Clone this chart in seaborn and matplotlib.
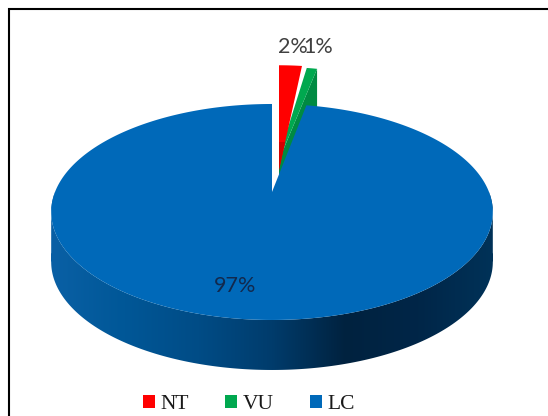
import numpy as np
import matplotlib
matplotlib.use("Agg")
import matplotlib.pyplot as plt
from matplotlib.patches import Polygon, Patch, Rectangle
from matplotlib.colors import LinearSegmentedColormap
import seaborn as sns

categories = ["NT", "VU", "LC"]
shares = [2, 1, 97]
pct_labels = ["2%", "1%", "97%"]
colors = ["#ff0000", "#00a84f", "#0069b9"]
wall_green = "#008a42"
shade_red = "#d40000"
side_stops = ["#0a60a5", "#005797", "#004c86", "#003c6c", "#00223f", "#002648", "#003258"]

sns.set_theme(style="white")
W, H = 548, 416
fig = plt.figure(figsize=(W / 100, H / 100), dpi=100, facecolor="white")

# Slice angles come from the library's pie layout; outlines are then reprojected
helper = fig.add_axes([0, 0, 0.01, 0.01])
wedges, _ = helper.pie(shares, colors=colors, startangle=90, counterclock=False, radius=1)
outlines = []
for w in wedges:
    t = np.deg2rad(np.linspace(w.theta1, w.theta2, max(8, int(abs(w.theta2 - w.theta1) * 3))))
    arc = np.column_stack([np.cos(t), np.sin(t)])
    outlines.append(np.vstack([[0, 0], arc]))
helper.remove()

ax = fig.add_axes([0, 0, 1, 1])
ax.set_xlim(0, W)
ax.set_ylim(H, 0)
ax.axis("off")

K, B, A = 0.185, 217.0, 104.3
DEPTH = 50


def project(xy, tip, vstretch=1.0, hstretch=1.0, shear=0.0):
    x, y = xy[:, 0], xy[:, 1]
    d = 1 + K * y
    v = vstretch * A * y / d
    return np.column_stack([tip[0] + hstretch * B * x / d + shear * v, tip[1] - v])


tip_nt, tip_vu, tip_lc = (279, 170), (274, 172), (272, 192)
nt = project(outlines[0], tip_nt, 1.19)
vu = project(outlines[1], tip_vu, 1.19, 0.91, 0.114)
lc = project(outlines[2], tip_lc)

# exploded small slices, behind the big slice: green first, red laid over it
corner = vu[np.argmax(vu[:, 0])]
base = np.array(tip_vu, float)
green_wall = Polygon([corner, corner + [0, DEPTH], base + [0, DEPTH], base],
                     closed=True, fc=wall_green, ec="none", zorder=2)
green_top = Polygon(vu, closed=True, fc=colors[1], ec="none", zorder=3)
ax.add_patch(green_wall)
ax.add_patch(green_top)
# green never shows left of the red slice's vertical edge
keep = Rectangle((tip_nt[0], 0), W, H, transform=ax.transData)
green_wall.set_clip_path(keep)
green_top.set_clip_path(keep)
ax.add_patch(Polygon(nt, closed=True, fc=colors[0], ec="none", zorder=4))
nt_tip = np.array(tip_nt, float)
nt_corner = nt[np.argmax(nt[:, 0])]
ax.add_patch(Polygon([nt_tip, nt_tip + [0, -28], nt_tip + 0.27 * (nt_corner - nt_tip)],
                     closed=True, fc=shade_red, ec="none", zorder=4.5))

# extruded rim of the big slice with a horizontal gradient
th = np.linspace(np.pi, 2 * np.pi, 721)
rim = project(np.column_stack([np.cos(th), np.sin(th)]), tip_lc)
body = np.vstack([[rim[:, 0].min(), 212], rim, [rim[:, 0].max(), 212],
                  [rim[:, 0].max(), 212 + DEPTH], (rim + [0, DEPTH])[::-1],
                  [rim[:, 0].min(), 212 + DEPTH]])
clip = Polygon(body, closed=True, fc="none", ec="none", transform=ax.transData)
ax.add_patch(clip)
cmap = LinearSegmentedColormap.from_list("side", side_stops)
img = ax.imshow(np.linspace(0, 1, 256)[None, :], cmap=cmap, aspect="auto",
                extent=[rim[:, 0].min(), rim[:, 0].max(), H, 0], zorder=5)
img.set_clip_path(clip)
ax.set_xlim(0, W)
ax.set_ylim(H, 0)

ax.add_patch(Polygon(lc, closed=True, fc=colors[2], ec="none", zorder=6))

# percentage labels
label_pos = [(293, 47), (318, 47), (235.5, 286)]
label_cols = ["#404040", "#404040", "#12294d"]
for s, (x, y), c in zip(pct_labels, label_pos, label_cols):
    ax.text(x, y, s, ha="center", va="center", fontsize=15.5, color=c,
            family="Lato", zorder=8)

# legend
handles = [Patch(fc=c, ec="none") for c in colors]
ax.legend(handles, categories, loc="center", bbox_to_anchor=(249 / W, 1 - 404.5 / H),
          bbox_transform=ax.transAxes, ncol=3, frameon=False, handlelength=0.55,
          handleheight=0.55, handletextpad=0.25, columnspacing=1.7, borderpad=0,
          prop={"family": "Liberation Serif", "size": 15.5}, labelcolor="#1a1a1a")

# chart frame: only left and top edges are inside the crop
ax.plot([9, 9, W], [H, 9, 9], color="black", lw=1.5, zorder=9,
        solid_joinstyle="miter")

fig.savefig("out.png", dpi=100, facecolor="white")
